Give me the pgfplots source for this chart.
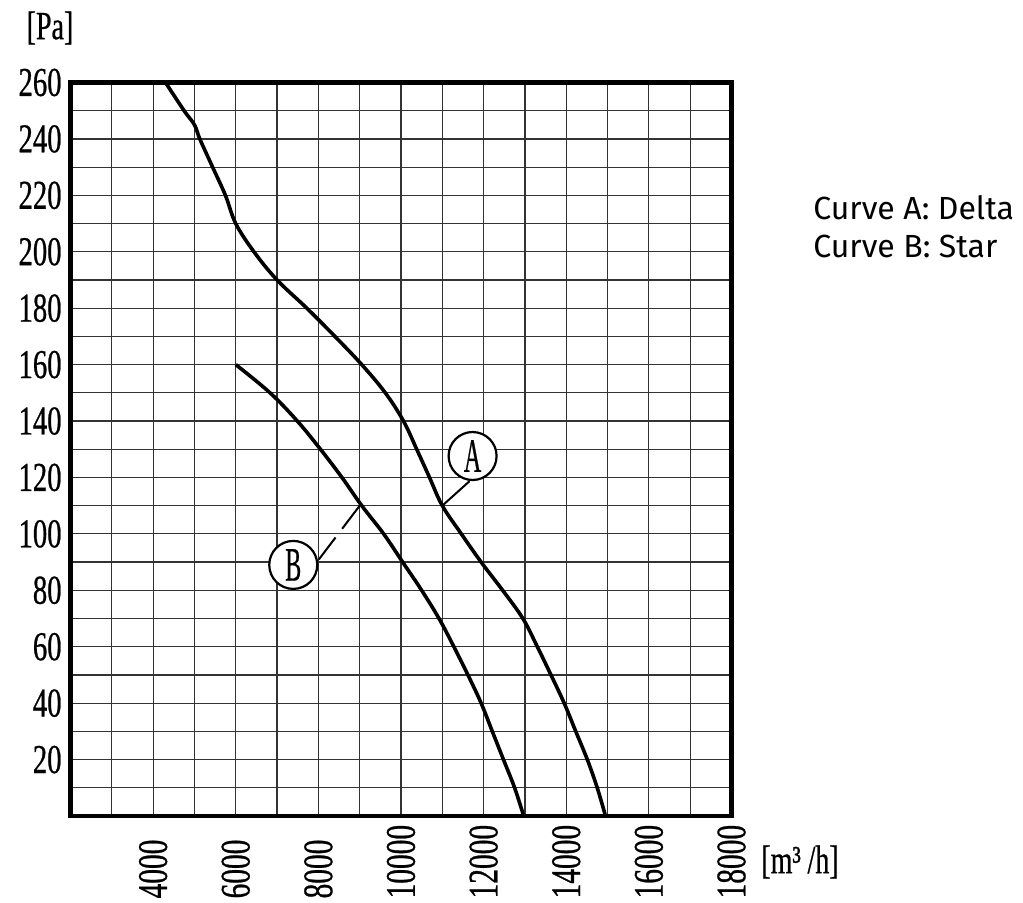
\documentclass[border=0pt]{standalone}
\usepackage{fontspec}
\usepackage{pgfplots}
\pgfplotsset{compat=1.18}
\setmainfont{Liberation Serif}
\newfontfamily\cond{Liberation Serif}[FakeStretch=0.7, FakeBold=0.6]
\newfontfamily\condB{Liberation Serif}[FakeStretch=0.5, FakeBold=0.4]
\newfontfamily\sans{Fira Sans}

\begin{document}
\begin{tikzpicture}
\useasboundingbox (-35.25pt,-43.5pt) rectangle (476.25pt,408pt);
\begin{axis}[
 at={(0pt,0pt)}, anchor=south west,
 scale only axis, width=330.5pt, height=366.75pt,
 xmin=2000, xmax=18000, ymin=0, ymax=260,
 xtick={4000,6000,8000,10000,12000,14000,16000,18000},
 xticklabels={4000,6000,8000,10000,12000,14000,16000,18000},
 minor xtick={3000,5000,7000,9000,11000,13000,15000,17000},
 ytick={20,40,...,260},
 minor ytick={10,30,...,250},
 /pgf/number format/assume math mode=true,
 grid=both,
 grid style={black!80, line width=0.6pt},
 minor grid style={black!80, line width=0.6pt},
 major grid style={black!80, line width=0.6pt},
 major tick length=0pt, minor tick length=0pt,
 axis line style={line width=2.4pt},
 scaled x ticks=false,
 x tick label style={rotate=90, anchor=east, text width=41pt, align=left, inner sep=0pt, font=\cond\fontsize{21}{21}\selectfont},
 y tick label style={anchor=east, inner sep=0pt, font=\cond\fontsize{20.5}{20.5}\selectfont},
 yticklabel shift=4.25pt,
 xticklabel shift=0pt,
]
\addplot[line width=1.8pt, smooth, tension=0.6] coordinates {
 (4300,260) (4750,250) (5000,245) (5130,240) (5440,230) (5750,220) (6000,210)
 (6440,200) (7000,190) (7720,180) (8400,170) (9050,160) (9620,150) (10060,140)
 (10380,130) (10690,120) (11000,110) (11460,100) (11940,90) (12460,80) (12950,70)
 (13300,60) (13630,50) (13950,40) (14230,30) (14510,20) (14750,10) (14950,0)
};
\addplot[line width=1.8pt, smooth, tension=0.6] coordinates {
 (6000,160) (6830,150) (7490,140) (8050,130) (8570,120) (9050,110) (9580,100)
 (10040,90) (10500,80) (10920,70) (11280,60) (11620,50) (11940,40) (12210,30)
 (12480,20) (12750,10) (12970,0)
};
\draw[line width=1pt] (axis cs:11000,110) -- (axis cs:11660,118.7);
\draw[line width=1pt, dash pattern=on 14.5pt off 5.5pt] (axis cs:9000,110) -- (axis cs:8010,90.9);
\node[draw, circle, line width=1.1pt, minimum size=24pt, inner sep=0pt, fill=white]
  at (axis cs:11733,127.6) {\condB\fontsize{24}{24}\selectfont A};
\node[draw, circle, line width=1.1pt, minimum size=24pt, inner sep=0pt, fill=white]
  at (axis cs:7392,89) {\condB\fontsize{24}{24}\selectfont B};
\end{axis}
\node[font=\cond\fontsize{20}{20}\selectfont, inner sep=0pt] at (-10.25pt,394pt) {[Pa]};
\node[font=\cond\fontsize{20}{20}\selectfont, inner sep=0pt] at (364.75pt,-23pt) {[m³\,/h]};
\node[font=\sans\fontsize{16}{16}\selectfont, anchor=base west, inner sep=0pt] at (371.25pt,298pt) {Curve A: Delta};
\node[font=\sans\fontsize{16}{16}\selectfont, anchor=base west, inner sep=0pt] at (371.25pt,279pt) {Curve B: Star};
\end{tikzpicture}
\end{document}
